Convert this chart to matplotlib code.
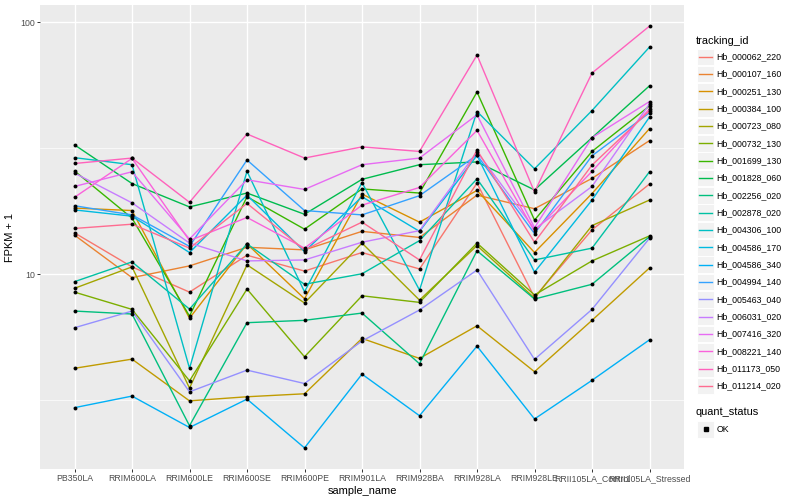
import numpy as np
import matplotlib
matplotlib.use("Agg")
import matplotlib.pyplot as plt
from matplotlib.patches import Rectangle
from matplotlib.lines import Line2D

plt.rcParams['font.family'] = ['Liberation Sans', 'DejaVu Sans']

# x categories
samples = ["PB350LA", "RRIM600LA", "RRIM600LE", "RRIM600SE", "RRIM600PE",
           "RRIM901LA", "RRIM928BA", "RRIM928LA", "RRIM928LE",
           "RRII105LA_Control", "RRII105LA_Stressed"]

tracking_ids = ["Hb_000062_220", "Hb_000107_160", "Hb_000251_130", "Hb_000384_100",
                "Hb_000723_080", "Hb_000732_130", "Hb_001699_130", "Hb_001828_060",
                "Hb_002256_020", "Hb_002878_020", "Hb_004306_100", "Hb_004586_170",
                "Hb_004586_340", "Hb_004994_140", "Hb_005463_040", "Hb_006031_020",
                "Hb_007416_320", "Hb_008221_140", "Hb_011173_050", "Hb_011214_020"]

# ggplot default hue palette, 20 levels
colors = ["#F8766D", "#EA8331", "#D89000", "#C09B00", "#A3A500", "#7CAE00",
          "#39B600", "#00BB4E", "#00BF7D", "#00C1A3", "#00BFC4", "#00BAE0",
          "#00B0F6", "#35A2FF", "#9590FF", "#C77CFF", "#E76BF3", "#FA62DB",
          "#FF62BC", "#FF6C91"]

# FPKM + 1, one list per gene, in sample order
hb_000062_220 = [14.6, 10.7, 8.5, 11.9, 10.3, 12.2, 10.5, 23.0, 8.1, 15.0, 22.8]
hb_000107_160 = [14.3, 9.7, 10.8, 12.8, 12.5, 14.8, 14.0, 20.6, 18.2, 24.0, 33.9]
hb_000251_130 = [18.3, 17.9, 6.7, 13.2, 8.0, 20.8, 16.1, 21.5, 12.2, 20.9, 37.8]
hb_000384_100 = [4.24, 4.61, 3.15, 3.27, 3.36, 5.57, 4.64, 6.25, 4.11, 6.57, 10.6]
hb_000723_080 = [8.8, 10.7, 3.54, 10.9, 7.7, 13.3, 7.9, 13.0, 8.05, 15.6, 19.7]
hb_000732_130 = [8.5, 7.26, 3.78, 8.74, 4.71, 8.22, 7.74, 13.3, 8.28, 11.3, 14.2]
hb_001699_130 = [25.7, 16.7, 6.83, 20.3, 15.1, 21.8, 21.0, 52.8, 16.4, 30.7, 46.5]
hb_001828_060 = [32.6, 22.9, 18.5, 21.0, 17.3, 23.8, 27.2, 27.9, 21.6, 34.8, 55.9]
hb_002256_020 = [7.15, 6.96, 2.51, 6.43, 6.57, 7.02, 4.42, 12.4, 7.98, 9.13, 14.1]
hb_002878_020 = [9.35, 11.2, 7.28, 13.2, 9.13, 10.05, 13.6, 23.9, 11.4, 12.7, 25.5]
hb_004306_100 = [29.0, 27.2, 4.24, 25.6, 8.53, 23.1, 8.66, 44.2, 26.2, 44.6, 79.6]
hb_004586_170 = [18.0, 17.0, 12.2, 20.6, 12.3, 20.3, 14.8, 29.6, 10.2, 19.7, 42.0]
hb_004586_340 = [2.96, 3.29, 2.47, 3.20, 2.05, 4.02, 2.75, 5.19, 2.67, 3.80, 5.50]
hb_004994_140 = [18.7, 17.2, 12.9, 28.4, 17.9, 17.2, 20.5, 29.7, 14.5, 29.5, 43.7]
hb_005463_040 = [6.14, 7.15, 3.42, 4.17, 3.69, 5.44, 7.22, 10.4, 4.60, 7.26, 13.9]
hb_006031_020 = [25.2, 19.2, 13.3, 11.3, 11.4, 13.4, 14.9, 30.6, 15.1, 22.3, 47.4]
hb_007416_320 = [22.3, 25.5, 13.8, 23.7, 21.7, 27.2, 28.9, 42.9, 15.3, 34.8, 48.4]
hb_008221_140 = [20.2, 28.8, 13.6, 16.8, 12.7, 18.8, 22.1, 37.2, 14.8, 25.6, 45.3]
hb_011173_050 = [27.5, 28.9, 19.3, 36.0, 28.9, 32.0, 30.7, 74.0, 21.2, 62.8, 96.4]
hb_011214_020 = [15.2, 15.8, 12.7, 19.1, 12.5, 16.1, 11.4, 31.1, 13.4, 27.1, 44.5]

series = [hb_000062_220, hb_000107_160, hb_000251_130, hb_000384_100,
          hb_000723_080, hb_000732_130, hb_001699_130, hb_001828_060,
          hb_002256_020, hb_002878_020, hb_004306_100, hb_004586_170,
          hb_004586_340, hb_004994_140, hb_005463_040, hb_006031_020,
          hb_007416_320, hb_008221_140, hb_011173_050, hb_011214_020]

W, H = 800, 500
fig = plt.figure(figsize=(8, 5), dpi=100)
ax = fig.add_axes([40 / W, 1 - 469 / H, (684 - 40) / W, (469 - 5) / H])
ax.set_facecolor("#EBEBEB")
for s in ax.spines.values():
    s.set_visible(False)

x = np.arange(len(samples))
for vals, col in zip(series, colors):
    ax.plot(x, vals, color=col, lw=1.0, zorder=3)
for vals in series:
    ax.plot(x, vals, 'o', color='black', ms=2.8, mec='none', zorder=4)

ax.set_yscale('log')
# ggplot style 5% expansion in log space
lo = np.log10(min(min(v) for v in series))
hi = np.log10(max(max(v) for v in series))
pad = (hi - lo) * 0.05
ax.set_ylim(10 ** (lo - pad), 10 ** (hi + pad))
ax.set_xlim(-0.6, len(samples) - 1 + 0.6)

ax.set_yticks([10, 100])
ax.set_yticklabels(["10", "100"])
ax.set_yticks([10 ** 0.5, 10 ** 1.5], minor=True)
ax.yaxis.set_minor_formatter(plt.NullFormatter())
ax.set_xticks(x)
ax.set_xticklabels(samples)

ax.grid(True, which='major', color='white', lw=1.0, zorder=0)
ax.grid(True, which='minor', axis='y', color='white', lw=0.5, zorder=0)
ax.set_axisbelow(True)
ax.tick_params(which='major', length=2.0, width=0.7, color='#333333',
               labelsize=6.3, labelcolor='#4D4D4D', pad=1.5)
ax.tick_params(which='minor', length=0)

ax.set_xlabel("sample_name", fontsize=7.9, labelpad=2)
ax.set_ylabel("FPKM + 1", fontsize=7.9, labelpad=4)

# legend drawn by hand, ggplot style
def px(xp, yp):
    return xp / W, 1 - yp / H

fig.text(*px(696, 40.5), "tracking_id", fontsize=7.9, va='center', ha='left')
for i, (name, col) in enumerate(zip(tracking_ids, colors)):
    yc = 56.7 + i * 17.33
    x0, y0 = px(697.3, yc + 8.2)
    fig.patches.append(Rectangle((x0, y0), 16.4 / W, 16.4 / H, transform=fig.transFigure,
                                 facecolor='#F2F2F2', edgecolor='white', lw=0.7))
    fig.lines.append(Line2D([699.3 / W, 711.7 / W], [1 - yc / H] * 2,
                            transform=fig.transFigure, color=col, lw=1.0))
    fig.text(*px(716.5, yc), name, fontsize=6.3, va='center', ha='left')

fig.text(*px(696, 412.3), "quant_status", fontsize=7.9, va='center', ha='left')
yc = 429.3
x0, y0 = px(697.3, yc + 8.2)
fig.patches.append(Rectangle((x0, y0), 16.4 / W, 16.4 / H, transform=fig.transFigure,
                             facecolor='#F2F2F2', edgecolor='white', lw=0.7))
fig.lines.append(Line2D([705.5 / W], [1 - yc / H], transform=fig.transFigure,
                        marker='s', color='black', ms=2.6, ls='none'))
fig.text(*px(716.5, yc), "OK", fontsize=6.3, va='center', ha='left')

fig.savefig("out.png", dpi=100, facecolor='white')
